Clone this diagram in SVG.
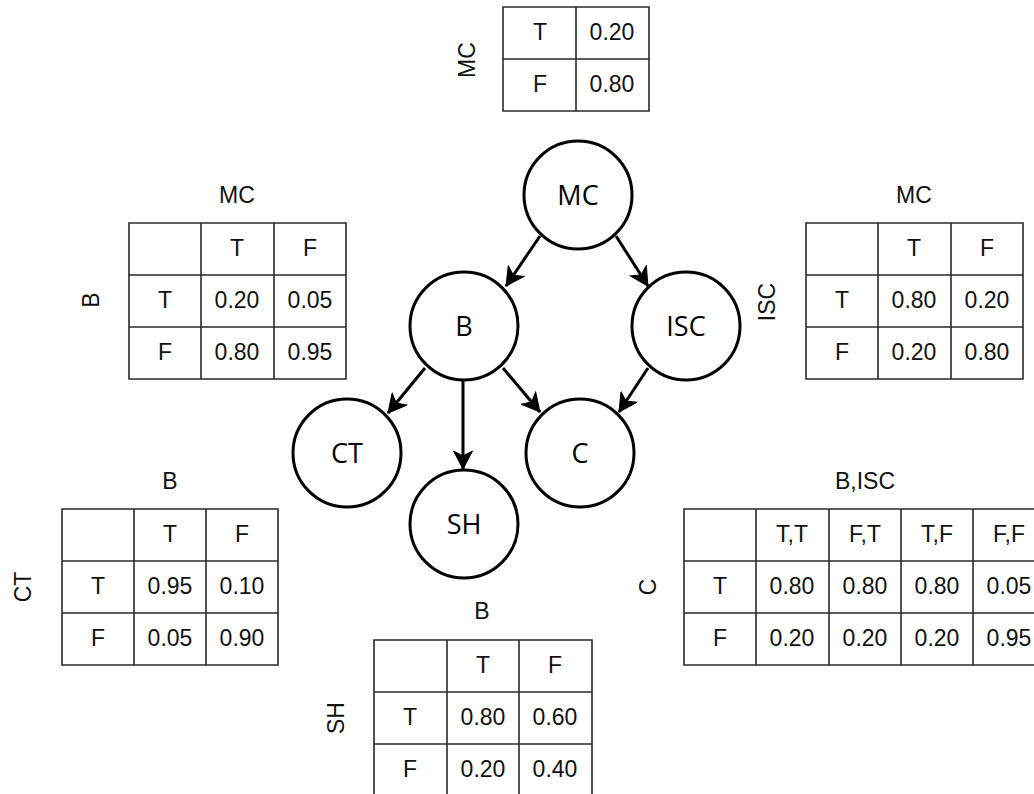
<svg xmlns="http://www.w3.org/2000/svg" width="1034" height="794" viewBox="0 0 1034 794">
<style>
.grid{stroke:#2a2a2a;stroke-width:1.6;fill:none}
.t{font-family:"Liberation Sans",Arial,sans-serif;font-size:23px;fill:#111;text-anchor:middle;dominant-baseline:central}
.node circle{fill:#fff;stroke:#000;stroke-width:3}
.node text{font-family:"Open Sans","Noto Sans",sans-serif;font-size:27px;fill:#000;text-anchor:middle;dominant-baseline:central}
.edge{stroke:#000;stroke-width:3;fill:none;marker-end:url(#arr)}
</style>
<defs>
<marker id="arr" markerUnits="userSpaceOnUse" viewBox="0 0 20 20" markerWidth="20" markerHeight="20" refX="19" refY="10" orient="auto">
<path d="M19,10 L1,0.5 L6,10 L1,19.5 Z" fill="#000" stroke="#000" stroke-width="1" stroke-linejoin="miter"/>
</marker>
</defs>
<rect width="1034" height="794" fill="#fff"/>

<g id="connectors">
<line class="edge" x1="540" y1="236" x2="506" y2="286"/>
<line class="edge" x1="616" y1="236" x2="648" y2="286"/>
<line class="edge" x1="425" y1="368" x2="388" y2="413"/>
<line class="edge" x1="463" y1="381" x2="463" y2="469"/>
<line class="edge" x1="503" y1="368" x2="540" y2="412"/>
<line class="edge" x1="648" y1="368" x2="619" y2="412"/>
</g>

<g id="node-MC" class="node"><circle cx="578" cy="195" r="54"/><text x="578" y="194">MC</text></g>
<g id="node-B" class="node"><circle cx="464" cy="326" r="54"/><text x="464" y="325">B</text></g>
<g id="node-ISC" class="node"><circle cx="686" cy="326" r="54"/><text x="686" y="325">ISC</text></g>
<g id="node-CT" class="node"><circle cx="347" cy="453" r="54"/><text x="347" y="452">CT</text></g>
<g id="node-C" class="node"><circle cx="580" cy="453" r="54"/><text x="580" y="452">C</text></g>
<g id="node-SH" class="node"><circle cx="464" cy="524" r="54"/><text x="464" y="523">SH</text></g>

<g id="table-MC">
<path class="grid" d="M503,7H649V111H503Z M576,7V111 M503,59H649"/>
<text class="t" x="540" y="32">T</text><text class="t" x="612" y="32">0.20</text>
<text class="t" x="540" y="84">F</text><text class="t" x="612" y="84">0.80</text>
<text class="t" transform="translate(467,60) rotate(-90)">MC</text>
</g>

<g id="table-B">
<path class="grid" d="M129,223H346V379H129Z M201,223V379 M274,223V379 M129,275H346 M129,327H346"/>
<text class="t" x="237" y="195">MC</text>
<text class="t" x="237" y="248">T</text><text class="t" x="310" y="248">F</text>
<text class="t" x="165" y="300">T</text><text class="t" x="237" y="300">0.20</text><text class="t" x="310" y="300">0.05</text>
<text class="t" x="165" y="352">F</text><text class="t" x="237" y="352">0.80</text><text class="t" x="310" y="352">0.95</text>
<text class="t" transform="translate(91,300) rotate(-90)">B</text>
</g>

<g id="table-ISC">
<path class="grid" d="M806,223H1023V379H806Z M878,223V379 M951,223V379 M806,275H1023 M806,327H1023"/>
<text class="t" x="914" y="195">MC</text>
<text class="t" x="914" y="248">T</text><text class="t" x="987" y="248">F</text>
<text class="t" x="842" y="300">T</text><text class="t" x="914" y="300">0.80</text><text class="t" x="987" y="300">0.20</text>
<text class="t" x="842" y="352">F</text><text class="t" x="914" y="352">0.20</text><text class="t" x="987" y="352">0.80</text>
<text class="t" transform="translate(767,302) rotate(-90)">ISC</text>
</g>

<g id="table-CT">
<path class="grid" d="M62,509H278V665H62Z M134,509V665 M206,509V665 M62,561H278 M62,613H278"/>
<text class="t" x="170" y="481">B</text>
<text class="t" x="170" y="534">T</text><text class="t" x="242" y="534">F</text>
<text class="t" x="98" y="586">T</text><text class="t" x="170" y="586">0.95</text><text class="t" x="242" y="586">0.10</text>
<text class="t" x="98" y="638">F</text><text class="t" x="170" y="638">0.05</text><text class="t" x="242" y="638">0.90</text>
<text class="t" transform="translate(23,587) rotate(-90)">CT</text>
</g>

<g id="table-C">
<path class="grid" d="M684,509H1045V665H684Z M756,509V665 M829,509V665 M901,509V665 M973,509V665 M684,561H1045 M684,613H1045"/>
<text class="t" x="865" y="481">B,ISC</text>
<text class="t" x="792" y="534">T,T</text><text class="t" x="865" y="534">F,T</text><text class="t" x="937" y="534">T,F</text><text class="t" x="1009" y="534">F,F</text>
<text class="t" x="720" y="586">T</text><text class="t" x="792" y="586">0.80</text><text class="t" x="865" y="586">0.80</text><text class="t" x="937" y="586">0.80</text><text class="t" x="1009" y="586">0.05</text>
<text class="t" x="720" y="638">F</text><text class="t" x="792" y="638">0.20</text><text class="t" x="865" y="638">0.20</text><text class="t" x="937" y="638">0.20</text><text class="t" x="1009" y="638">0.95</text>
<text class="t" transform="translate(648,587) rotate(-90)">C</text>
</g>

<g id="table-SH">
<path class="grid" d="M374,640H592V796H374Z M447,640V796 M519,640V796 M374,692H592 M374,744H592"/>
<text class="t" x="482" y="611">B</text>
<text class="t" x="483" y="665">T</text><text class="t" x="555" y="665">F</text>
<text class="t" x="410" y="717">T</text><text class="t" x="483" y="717">0.80</text><text class="t" x="555" y="717">0.60</text>
<text class="t" x="410" y="769">F</text><text class="t" x="483" y="769">0.20</text><text class="t" x="555" y="769">0.40</text>
<text class="t" transform="translate(336,718) rotate(-90)">SH</text>
</g>
</svg>
